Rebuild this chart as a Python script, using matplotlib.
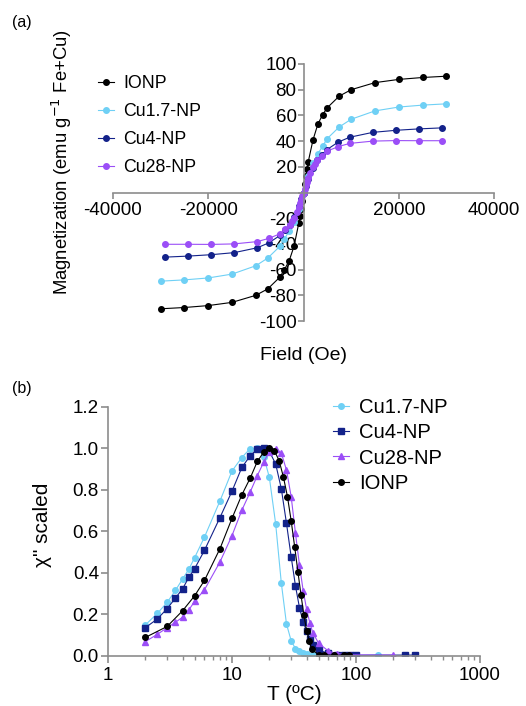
import numpy as np
import matplotlib
matplotlib.use("Agg")
import matplotlib.pyplot as plt
from matplotlib.ticker import FixedLocator, FuncFormatter, LogLocator, NullFormatter

plt.rcParams["font.family"] = ["Liberation Sans", "DejaVu Sans"]
plt.rcParams["axes.unicode_minus"] = False

# ---- panel (a): magnetization vs field ---------------------------------- #
field_ionp = [-30000, -25000, -20000, -15000, -10000, -7500, -5000, -4000, -3000,
              -2000, -1000, -750, -500, -250, 0, 250, 500, 750, 1000, 2000, 3000,
              4000, 5000, 7500, 10000, 15000, 20000, 25000, 30000]
m_ionp = [-90.5, -89.5, -88, -85.5, -80, -75, -66, -60, -53, -42, -24, -18.5,
          -12.5, -6.5, 0, 6.5, 12.5, 18.5, 24, 41, 53, 60.5, 66, 75, 80, 85.5,
          88, 89.5, 90.5]

field_cu17 = [-30000, -25000, -20000, -15000, -10000, -7500, -5000, -4000, -3000,
              -2000, -1000, -500, 0, 500, 1000, 2000, 3000, 4000, 5000, 7500,
              10000, 15000, 20000, 25000, 30000]
m_cu17 = [-69, -68, -66.5, -63.5, -57, -51, -42, -36, -30, -23, -12.5, -6, 0,
          6, 12.5, 23, 30, 36, 42, 51, 57, 63.5, 66.5, 68, 69]

field_cu4 = [-29100, -24250, -19400, -14550, -9700, -7275, -4850, -3880, -2910,
             -1940, -970, -485, 0, 485, 970, 1940, 2910, 3880, 4850, 7275, 9700,
             14550, 19400, 24250, 29100]
m_cu4 = [-50.3, -49.5, -48.4, -46.8, -43, -39.2, -33.2, -29.5, -25, -19, -10.5,
         -5.3, 0, 5.3, 10.5, 19, 25, 29.5, 33.2, 39.2, 43, 46.8, 48.4, 49.5, 50.3]

field_cu28 = [-29100, -24250, -19400, -14550, -9700, -7275, -4850, -3880, -2910,
              -2425, -1940, -1455, -970, -728, -485, -243, 0, 243, 485, 728, 970,
              1455, 1940, 2425, 2910, 3880, 4850, 7275, 9700, 14550, 19400, 24250,
              29100]
m_cu28 = [-40.3, -40.3, -40.4, -40, -38.2, -35.7, -32, -28.7, -25, -22.5, -19.5,
          -15.5, -11, -8.3, -5.6, -2.8, 0, 2.8, 5.6, 8.3, 11, 15.5, 19.5, 22.5,
          25, 28.7, 32, 35.7, 38.2, 40, 40.4, 40.3, 40.3]

# ---- panel (b): chi'' scaled vs temperature ------------------------------ #
t_cu17 = [2, 2.5, 3, 3.5, 4, 4.5, 5, 6, 8, 10, 12, 14, 16, 18, 20, 22.5, 25,
          27.5, 30, 32.5, 35, 37.5, 40, 45, 50, 60, 70, 80, 100, 150]
chi_cu17 = [0.148, 0.204, 0.257, 0.315, 0.37, 0.418, 0.473, 0.572, 0.746, 0.89,
            0.955, 0.998, 1.0, 0.96, 0.86, 0.635, 0.349, 0.153, 0.072, 0.034,
            0.022, 0.013, 0.008, 0.004, 0.002, 0.001, 0.0, 0.0, 0.0, 0.003]

t_cu4 = [2, 2.5, 3, 3.5, 4, 4.5, 5, 6, 8, 10, 12, 14, 16, 18, 20, 22.5, 25, 27.5,
         30, 32.5, 35, 37.5, 40, 42.5, 45, 50, 60, 70, 80, 90, 100, 250, 300]
chi_cu4 = [0.135, 0.177, 0.227, 0.278, 0.323, 0.379, 0.42, 0.508, 0.666, 0.793,
           0.907, 0.963, 0.997, 1.0, 0.985, 0.924, 0.804, 0.638, 0.477, 0.336,
           0.232, 0.162, 0.119, 0.082, 0.051, 0.027, 0.011, 0.004, 0.003, 0.003,
           0.002, 0.003, 0.003]

t_cu28 = [2, 2.5, 3, 3.5, 4, 4.5, 5, 6, 8, 10, 12, 14, 16, 18, 20, 22.5, 25, 27.5,
          30, 32.5, 35, 37.5, 40, 42.5, 45, 50, 60, 70, 90, 200]
chi_cu28 = [0.068, 0.103, 0.135, 0.161, 0.186, 0.222, 0.262, 0.318, 0.452, 0.579,
            0.701, 0.788, 0.868, 0.932, 0.984, 0.998, 0.976, 0.895, 0.767, 0.59,
            0.437, 0.313, 0.223, 0.156, 0.108, 0.06, 0.022, 0.01, 0.004, 0.003]

t_ionp = [2, 3, 4, 5, 6, 8, 10, 12, 14, 16, 18, 20, 22, 24, 26, 28, 30, 32, 34,
          36, 38, 40, 42, 44, 50, 55, 67, 80, 88]
chi_ionp = [0.088, 0.141, 0.217, 0.289, 0.363, 0.516, 0.662, 0.775, 0.855, 0.936,
            0.981, 1.0, 0.987, 0.94, 0.86, 0.767, 0.65, 0.526, 0.405, 0.293,
            0.196, 0.12, 0.07, 0.03, 0.005, 0.005, 0.002, 0.003, 0.005]

BLACK = "#000000"
CYAN = "#6fd0f5"
NAVY = "#13228a"
PURPLE = "#9b4ef7"
GREY = "#8c8c8c"

fig = plt.figure(figsize=(5.26, 7.06), dpi=100)

# ---------------------------- (a) ---------------------------------------- #
ax = fig.add_axes([113 / 526, 1 - 321 / 706, 381 / 526, 257 / 706])
for fx, my, c, lab in [(field_ionp, m_ionp, BLACK, "IONP"),
                       (field_cu17, m_cu17, CYAN, "Cu1.7-NP"),
                       (field_cu4, m_cu4, NAVY, "Cu4-NP"),
                       (field_cu28, m_cu28, PURPLE, "Cu28-NP")]:
    ax.plot(fx, my, "-o", color=c, lw=0.8, ms=4, mec=c, label=lab)
ax.set_xlim(-40000, 40000)
ax.set_ylim(-100, 100)
for s in ["top", "right"]:
    ax.spines[s].set_visible(False)
for s in ["left", "bottom"]:
    ax.spines[s].set_position(("data", 0))
    ax.spines[s].set_color(GREY)
    ax.spines[s].set_linewidth(1.2)
ax.xaxis.set_major_locator(FixedLocator([-40000, -20000, 0, 20000, 40000]))
ax.yaxis.set_major_locator(FixedLocator(np.arange(-100, 101, 20)))
hide0 = FuncFormatter(lambda v, p: "" if v == 0 else f"{v:.0f}")
ax.xaxis.set_major_formatter(hide0)
ax.yaxis.set_major_formatter(hide0)
ax.tick_params(axis="both", colors=GREY, labelcolor="black", width=1.2,
               length=4, labelsize=13.5)
ax.tick_params(axis="y", pad=1)
ax.tick_params(axis="x", pad=3)
ax.legend(loc="upper left", bbox_to_anchor=(98 / 526, 1 - 75 / 706),
          bbox_transform=fig.transFigure, frameon=False, fontsize=12.8,
          handlelength=0.9, handletextpad=0.5, labelspacing=0.62,
          borderpad=0, borderaxespad=0)
fig.text(62 / 526, 1 - 162 / 706, "Magnetization (emu g$^{-1}$ Fe+Cu)",
         rotation=90, ha="center", va="center", fontsize=13.3)
fig.text(303 / 526, 1 - 355 / 706, "Field (Oe)", ha="center", va="center",
         fontsize=14)
fig.text(12 / 526, 1 - 23 / 706, "(a)", ha="left", va="center", fontsize=11.5)

# ---------------------------- (b) ---------------------------------------- #
bx = fig.add_axes([108 / 526, 1 - 655.7 / 706, 372 / 526, 249 / 706])
for tx, cy, c, mk, lab in [(t_cu17, chi_cu17, CYAN, "o", "Cu1.7-NP"),
                           (t_cu4, chi_cu4, NAVY, "s", "Cu4-NP"),
                           (t_cu28, chi_cu28, PURPLE, "^", "Cu28-NP"),
                           (t_ionp, chi_ionp, BLACK, "o", "IONP")]:
    bx.plot(tx, cy, "-", marker=mk, color=c, lw=0.8, ms=4, mec=c, label=lab)
bx.set_xscale("log")
bx.set_xlim(1, 1000)
bx.set_ylim(0, 1.2)
for s in ["top", "right"]:
    bx.spines[s].set_visible(False)
for s in ["left", "bottom"]:
    bx.spines[s].set_color(GREY)
    bx.spines[s].set_linewidth(1.2)
bx.xaxis.set_major_locator(FixedLocator([1, 10, 100, 1000]))
bx.xaxis.set_major_formatter(FuncFormatter(lambda v, p: f"{v:.0f}"))
bx.xaxis.set_minor_locator(LogLocator(base=10, subs=np.arange(2, 10)))
bx.xaxis.set_minor_formatter(NullFormatter())
bx.yaxis.set_major_locator(FixedLocator(np.arange(0, 1.21, 0.2)))
bx.yaxis.set_major_formatter(FuncFormatter(lambda v, p: f"{v:.1f}"))
bx.tick_params(axis="both", which="major", colors=GREY, labelcolor="black",
               width=1.2, length=5, labelsize=13.5)
bx.tick_params(axis="x", which="minor", colors=GREY, width=1.0, length=3)
bx.tick_params(axis="y", pad=1.5)
bx.tick_params(axis="x", pad=3)
bx.legend(loc="upper left", bbox_to_anchor=(333 / 526, 1 - 398 / 706),
          bbox_transform=fig.transFigure, frameon=False, fontsize=14.6,
          handlelength=0.8, handletextpad=0.5, labelspacing=0.31,
          borderpad=0, borderaxespad=0)
fig.text(42 / 526, 1 - 525 / 706, "χ\" scaled", rotation=90, ha="center",
         va="center", fontsize=15)
fig.text(294 / 526, 1 - 695 / 706, "T (ºC)", ha="center", va="center",
         fontsize=15)
fig.text(12 / 526, 1 - 389 / 706, "(b)", ha="left", va="center", fontsize=11.5)

fig.savefig("out.png", dpi=100)
